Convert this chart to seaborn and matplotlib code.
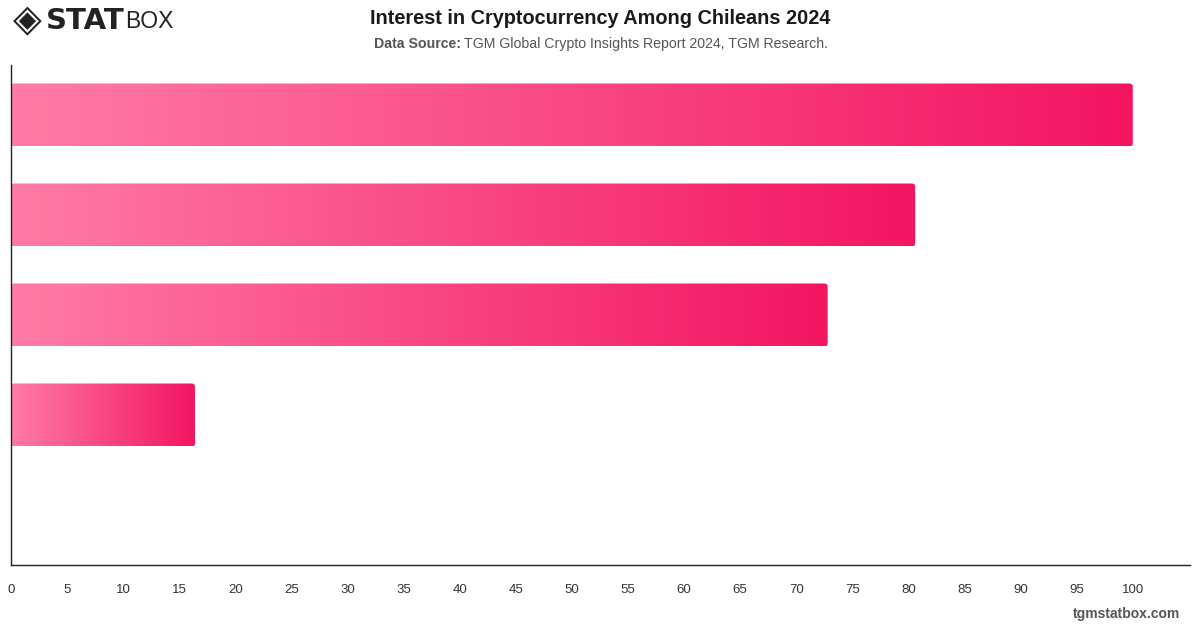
import matplotlib as mpl
mpl.use('Agg')
import matplotlib.pyplot as plt
from matplotlib.colors import LinearSegmentedColormap
from matplotlib.patches import FancyBboxPatch
import numpy as np
import pandas as pd
import seaborn as sns

# categories are not labelled in the chart
categories = ['A', 'B', 'C', 'D', 'E']
values = [100, 80.6, 72.8, 16.4, 0]
xticks = list(range(0, 105, 5))

df = pd.DataFrame({'cat': categories, 'val': values})

sns.set_style('white')
plt.rcParams['font.family'] = ['Liberation Sans', 'DejaVu Sans']

W, H = 1200, 628
fig = plt.figure(figsize=(W / 100, H / 100), dpi=100)
ax = fig.add_axes([11 / W, 1 - 565 / H, (1190 - 11) / W, (565 - 65) / H])

sns.barplot(data=df, y='cat', x='val', orient='h', width=0.63, ax=ax,
            color='#f31562', saturation=1)

cmap = LinearSegmentedColormap.from_list('pink', ['#ff7ba6', '#f31562'])
grad = np.linspace(0, 1, 256).reshape(1, -1)

#>> gradient fill inside each bar
bars = list(ax.patches)
for p in bars:
    x0, y0, w, h = p.get_x(), p.get_y(), p.get_width(), p.get_height()
    p.set_visible(False)
    if w <= 0:
        continue
    clip = FancyBboxPatch((x0, y0), w, h,
                          boxstyle='round,pad=0,rounding_size=0.3',
                          mutation_aspect=0.1, facecolor='none',
                          edgecolor='none', transform=ax.transData)
    ax.add_patch(clip)
    im = ax.imshow(grad, extent=[x0, x0 + w, y0 + h, y0], aspect='auto',
                   cmap=cmap, zorder=2, interpolation='bilinear')
    im.set_clip_path(clip)

ax.set_xlim(0, 105.1)
ax.set_ylim(4.5, -0.5)
ax.set_xticks(xticks)
ax.set_xticklabels([str(t) for t in xticks])
ax.set_yticks([])
ax.set_xlabel('')
ax.set_ylabel('')
ax.tick_params(axis='x', length=0, pad=14, labelsize=9.5, labelcolor='#333333')
for s in ['top', 'right']:
    ax.spines[s].set_visible(False)
for s in ['left', 'bottom']:
    ax.spines[s].set_color('#222222')
    ax.spines[s].set_linewidth(1)

def px(x, y):
    return x / W, 1 - y / H

#>> header
fig.text(*px(600, 18), 'Interest in Cryptocurrency Among Chileans 2024',
         ha='center', va='center', fontsize=14.3, fontweight='bold', color='#1a1a1a')
fig.text(*px(461, 44), 'Data Source:', ha='right', va='center',
         fontsize=10.2, fontweight='bold', color='#555555')
fig.text(*px(464, 44), 'TGM Global Crypto Insights Report 2024, TGM Research.',
         ha='left', va='center', fontsize=10.2, color='#555555')

#>> logo
fig.text(*px(13, 21), '\u25c8', ha='left', va='center', fontsize=27,
         color='#222222', family='DejaVu Sans')
fig.text(*px(46, 21), 'STAT', ha='left', va='center', fontsize=21,
         fontweight='heavy', color='#222222', family='DejaVu Sans')
fig.text(*px(125, 21), 'BOX', ha='left', va='center', fontsize=16.5,
         color='#222222')

#>> footer
fig.text(*px(1180, 614), 'tgmstatbox.com', ha='right', va='center',
         fontsize=10, fontweight='bold', color='#555555')

fig.savefig('out.png', dpi=100)
